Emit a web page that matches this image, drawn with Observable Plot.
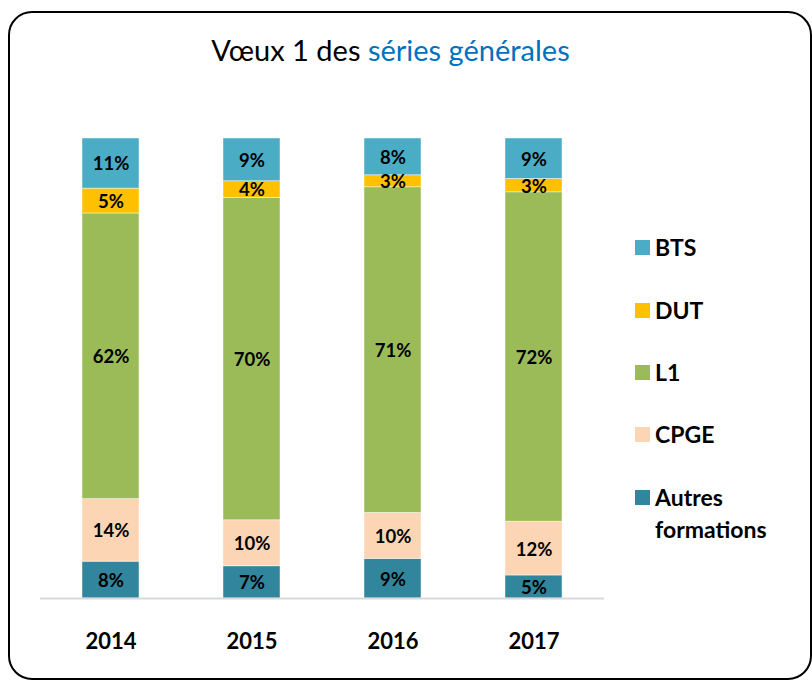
<!DOCTYPE html>
<html>
<head>
<meta charset="utf-8">
<script src="https://cdn.jsdelivr.net/npm/d3@7"></script>
<script src="https://cdn.jsdelivr.net/npm/@observablehq/plot@0.6"></script>
<style>
  html, body { margin: 0; padding: 0; background: #fff; overflow: hidden; }
  #wrap { position: relative; width: 812px; height: 683px; font-family: Lato, "Open Sans", sans-serif; }
  #frame { position: absolute; left: 8px; top: 11px; width: 800px; height: 665px; border: 2.5px solid #000; border-radius: 24px; }
  #title { position: absolute; left: 0; width: 781px; top: 32px; text-align: center; font-size: 29px; color: #000; }
  #title span { color: #0070C0; }
  #chart { position: absolute; left: 0; top: 0; }
  #legend { position: absolute; left: 635px; top: 0; }
  .li { position: absolute; left: 0; white-space: nowrap; font-weight: bold; font-size: 23px; color: #000; line-height: 32px; }
  .sw { position: absolute; left: 0; width: 15px; height: 15px; }
  .lt { position: absolute; left: 20px; }
</style>
</head>
<body>
<div id="wrap">
  <div id="frame"></div>
  <div id="title">Vœux 1 des <span>séries générales</span></div>
  <div id="chart"></div>
  <div id="legend"></div>
</div>
<script>
const years = ["2014", "2015", "2016", "2017"];
const categories = ["Autres formations", "CPGE", "L1", "DUT", "BTS"];
const colors = ["#31859C", "#FCD5B5", "#9BBB59", "#FFC000", "#4BACC6"];
const autres = [8.0, 7.0, 8.6, 5.0];
const cpge = [13.6, 10.0, 10.0, 11.7];
const l1 = [62.1, 70.1, 70.8, 71.6];
const dut = [5.4, 3.6, 2.6, 2.9];
const bts = [10.9, 9.3, 8.0, 8.8];
const legendOrder = ["BTS", "DUT", "L1", "CPGE", "Autres formations"];

const series = [autres, cpge, l1, dut, bts];
const data = [];
categories.forEach((c, i) => years.forEach((y, j) => data.push({year: y, cat: c, value: series[i][j]})));

const plot = Plot.plot({
  width: 812,
  height: 683,
  marginLeft: 40,
  marginRight: 208,
  marginTop: 138,
  marginBottom: 85,
  style: {fontFamily: "Lato, 'Open Sans', sans-serif", background: "transparent"},
  x: {domain: years, paddingInner: 0.596, paddingOuter: 0.298, label: null},
  y: {domain: [0, 100], axis: null},
  color: {domain: categories, range: colors},
  marks: [
    Plot.barY(data, Plot.stackY({x: "year", y: "value", z: "cat", fill: "cat", stroke: "#ffffff", strokeOpacity: 0.6, strokeWidth: 0.75})),
    Plot.ruleY([0], {stroke: "#d9d9d9", strokeWidth: 2}),
    Plot.text(data, Plot.stackY({x: "year", y: "value", z: "cat", text: d => Math.round(d.value) + "%", fill: "#000", fontWeight: "bold", fontSize: 18.5, dy: 1})),
    Plot.axisX({tickSize: 0, tickPadding: 35, fontSize: 22, fontWeight: "bold", fill: "#000", label: null})
  ]
});
document.getElementById("chart").appendChild(plot);

const legendY = {"BTS": 240, "DUT": 303, "L1": 365, "CPGE": 427, "Autres formations": 490};
const legend = document.getElementById("legend");
legendOrder.forEach(c => {
  const i = categories.indexOf(c);
  const item = document.createElement("div");
  item.className = "li";
  item.style.top = legendY[c] + "px";
  const sw = document.createElement("div");
  sw.className = "sw";
  sw.style.background = colors[i];
  item.appendChild(sw);
  const t = document.createElement("div");
  t.className = "lt";
  t.style.top = "-9px";
  t.innerHTML = c === "Autres formations" ? "Autres<br>formations" : c;
  item.appendChild(t);
  legend.appendChild(item);
});
</script>
</body>
</html>
